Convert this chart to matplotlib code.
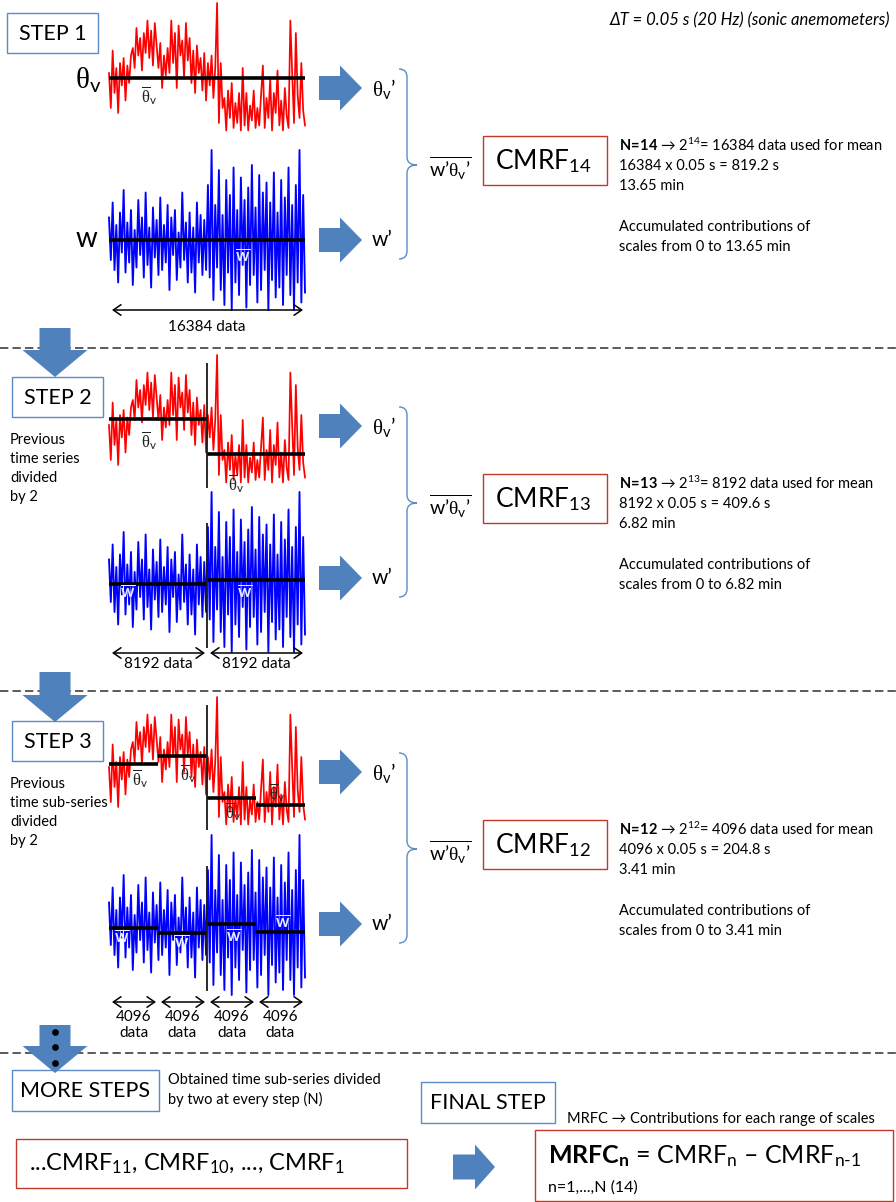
import numpy as np
import matplotlib
matplotlib.use('Agg')
import matplotlib.pyplot as plt
from matplotlib.patches import Rectangle, FancyArrow, PathPatch
from matplotlib.path import Path

plt.rcParams['font.family'] = ['Lato', 'DejaVu Sans']
plt.rcParams['mathtext.fontset'] = 'custom'
plt.rcParams['mathtext.rm'] = 'Lato'
plt.rcParams['mathtext.it'] = 'Lato:italic'
plt.rcParams['mathtext.bf'] = 'Lato:bold'
plt.rcParams['mathtext.tt'] = 'Liberation Serif'

# ---------------- data ----------------
# virtual potential temperature fluctuation (arbitrary units)
theta_v = [0.2, -1.2, 1.1, -0.6, 0.4, -1.4, 0.6,
           -0.3, 0.8, -0.9, 0.5, -0.2, 0.9,
           1.2, 0.4, 2.0, 0.9, 1.6, 0.3, 1.8,
           1.0, 2.3, 0.8, 1.9, 0.5, 2.2, 1.3, 0.4,
           1.4, -0.4, 0.9, 0.1, 1.2,
           0.2, 2.3, 0.6, 1.8, -0.4, 2.1, 0.9, 1.5, 0.0, 2.2, 0.7,
           1.6, -0.2, 1.1, -0.6, 1.3, 0.2, 0.8,
           -0.5, 1.0, -0.9, 0.6, -0.3, 0.9, -0.8, 0.4,
           3.0,
           -1.8, 0.6, -1.2,
           -0.8, -2.1, -0.5, -1.6, -0.2, -2.0, -1.0, -1.8, -0.6, -2.1,
           0.4,
           -1.9, -0.6, -2.1, -1.1, -1.7, -0.5, -2.0, -1.2, -1.9, -0.7,
           0.5,
           -2.0, -0.8, -1.6, 0.0, -2.1, -0.6, -1.4, 0.3, -1.9, -0.9, -2.1, -0.4, -1.5, -2.0,
           2.3,
           0.2, -1.8, 1.8, -0.7, -1.6, 0.6, -1.3, -1.9]

# vertical wind speed (arbitrary units)
w = [0.9, -0.8, 1.5, -1.2, 0.6, -1.7, 1.1, -0.5, 2.0, -1.3, 0.7, -0.9, 1.2, -1.8,
     0.4, -1.1, 1.6, -0.6, 0.9, -1.5, 1.9, -1.0, 0.5, -1.9, 1.3, -0.7, 0.8, -1.4,
     1.7, -1.2, 0.6, -0.9, 1.4, -2.0, 0.9, -0.6, 1.2, -1.6, 0.3, -1.1, 1.9, -0.8,
     0.7, -1.7, 1.1, -1.3, 0.5, -2.1, 1.5, -0.9, 1.0, -1.4, 0.8, -1.2,
     2.2, -1.5, 3.6, -2.4, 1.4, -1.1, 2.8, -2.0, 1.0, -2.6, 2.4, -1.3, 1.8, -2.8,
     2.9, -1.7, 1.2, -2.2, 2.5, -1.0, 1.6, -2.7, 2.1, -1.8, 3.0, -1.4, 1.3, -2.5,
     2.6, -2.0, 1.9, -1.2, 2.3, -2.8, 1.5, -1.6, 2.7, -2.3, 1.1, -1.9, 2.4, -2.6,
     1.7, -1.4, 2.9, -2.2, 1.4, -2.8, 2.2, -1.7, 3.6, -2.5, 1.8, -2.1]

theta_means = [[0.0], [0.44, -0.96], [0.32, 0.64, -1.04, -1.32]]
w_means = [[0.0], [-0.09, 0.08], [-0.12, -0.32, 0.04, -0.28]]

step_labels = ['STEP 1', 'STEP 2', 'STEP 3']
step_N = [14, 13, 12]
step_counts = [16384, 8192, 4096]
step_seconds = [819.2, 409.6, 204.8]
step_minutes = [13.65, 6.82, 3.41]
step_notes = ['', 'Previous\ntime series\ndivided\nby 2', 'Previous\ntime sub-series\ndivided\nby 2']

# ---------------- layout ----------------
W, H = 896, 1202
BLUE = '#4F81BD'
BOXBLUE = '#5B8CC8'
BOXRED = '#C0392B'
SIG_X0, SIG_X1 = 109, 305
PX_UNIT = 25.0
red_zero = [78, 430, 772]
blue_zero = [240, 582, 925]
col_off = [0, 338, 684]
step_box_y = [13, 377, 721]
step_box_x = [7, 12, 12]
data_arrow_y = [310, 653, 1002]
data_label_y = [327, 664, 1025]
theta_lbl_pos = [[(149, 96)], [(149, 441), (236, 484)],
                 [(140, 779), (188, 774), (233, 812), (277, 793)]]
w_lbl_pos = [[(243, 256)], [(128, 592), (245, 592)],
             [(122, 937), (182, 942), (234, 936), (283, 922)]]

fig = plt.figure(figsize=(W / 100, H / 100), dpi=100)
fig.patch.set_facecolor('white')

ax = fig.add_axes([0, 0, 1, 1], zorder=5)
ax.set_xlim(0, W)
ax.set_ylim(H, 0)
ax.axis('off')


def signal_axes(zero_px, ylo, yhi):
    top = zero_px - yhi * PX_UNIT
    bot = zero_px - ylo * PX_UNIT
    a = fig.add_axes([SIG_X0 / W, 1 - bot / H, (SIG_X1 - SIG_X0) / W, (bot - top) / H], zorder=1)
    a.set_xlim(0, 1)
    a.set_ylim(ylo, yhi)
    a.axis('off')
    return a


def brace(x, yt, ym, yb, r=8, nub=10):
    verts = [(x - r, yt), (x, yt), (x, yt + r), (x, ym - r), (x, ym), (x + nub, ym),
             (x, ym), (x, ym + r), (x, yb - r), (x, yb), (x - r, yb)]
    codes = [Path.MOVETO, Path.CURVE3, Path.CURVE3, Path.LINETO, Path.CURVE3, Path.CURVE3,
             Path.CURVE3, Path.CURVE3, Path.LINETO, Path.CURVE3, Path.CURVE3]
    ax.add_patch(PathPatch(Path(verts, codes), fc='none', ec=BOXBLUE, lw=1.0))


def box(x0, y0, x1, y1, ec, lw=1.0):
    ax.add_patch(Rectangle((x0, y0), x1 - x0, y1 - y0, fc='white', ec=ec, lw=lw, zorder=2))


THETA = r'\mathtt{\theta}_{\mathrm{v}}'

for s in range(3):
    n = 2 ** s
    t = np.linspace(0, 1, len(theta_v))
    # red (theta_v)
    ra = signal_axes(red_zero[s], -2.4, 3.2)
    ra.plot(t, theta_v, color='#FF0000', lw=1.25, clip_on=False)
    for k, m in enumerate(theta_means[s]):
        ra.hlines(m, k / n, (k + 1) / n, color='black', lw=2.6, zorder=3)
    # blue (w)
    t2 = np.linspace(0, 1, len(w))
    ba = signal_axes(blue_zero[s], -3.0, 3.8)
    ba.plot(t2, w, color='#0000FF', lw=1.35, clip_on=False)
    for k, m in enumerate(w_means[s]):
        ba.hlines(m, k / n, (k + 1) / n, color='black', lw=2.6, zorder=3)
    if s > 0:
        ra.vlines(0.5, -2.3, 2.7, color='#1a1a1a', lw=1.3, zorder=4)
        ba.vlines(0.5, -2.65, 2.35, color='#1a1a1a', lw=1.3, zorder=4)

    # mean labels
    for (x, y) in theta_lbl_pos[s]:
        ax.text(x, y, r'$\overline{\mathtt{\theta}}_{\mathrm{v}}$', ha='center', va='center',
                fontsize=12, color='#222222')
    for (x, y) in w_lbl_pos[s]:
        ax.text(x, y, r'$\overline{\mathbf{w}}$', ha='center', va='center',
                fontsize=12, color='#E6ECFF')

    # step box
    bx = step_box_x[s]
    by = step_box_y[s]
    box(bx, by, bx + 91, by + 40, BOXBLUE)
    ax.text(bx + 46, by + 21, step_labels[s], ha='center', va='center', fontsize=15.5)
    if step_notes[s]:
        ax.text(10, by + 56, step_notes[s], ha='left', va='top', fontsize=10.5, linespacing=1.45)

    # data arrows
    for k in range(n):
        b0 = SIG_X0 + (SIG_X1 - SIG_X0) * k / n
        b1 = SIG_X0 + (SIG_X1 - SIG_X0) * (k + 1) / n
        ax.annotate('', xy=(b1 - 2, data_arrow_y[s]), xytext=(b0 + 3, data_arrow_y[s]),
                    arrowprops=dict(arrowstyle='<->,head_length=0.55,head_width=0.38',
                                    lw=1.1, color='black', shrinkA=0, shrinkB=0))
        if s == 2:
            ax.text((b0 + b1) / 2, data_label_y[s], f'{step_counts[s]}\ndata', ha='center',
                    va='center', fontsize=11, linespacing=1.25)
        else:
            ax.text((b0 + b1) / 2, data_label_y[s], f'{step_counts[s]} data', ha='center',
                    va='center', fontsize=11)

    # right side
    o = col_off[s]
    ax.add_patch(FancyArrow(319, 88 + o, 43, 0, width=24, head_width=45, head_length=22,
                            length_includes_head=True, fc=BLUE, ec='none'))
    ax.add_patch(FancyArrow(319, 240 + o, 43, 0, width=24, head_width=45, head_length=22,
                            length_includes_head=True, fc=BLUE, ec='none'))
    ax.text(372, 90 + o, r'$' + THETA + r'$’', va='center', ha='left', fontsize=15)
    ax.text(372, 240 + o, 'w’', va='center', ha='left', fontsize=15)
    brace(407, 69 + o, 165 + o, 259 + o)
    ax.text(429, 168 + o, r'$\overline{\mathrm{w’}' + THETA + r'\mathrm{’}}$', va='center',
            ha='left', fontsize=14)
    box(483, 136 + o, 607, 185 + o, BOXRED)
    ax.text(495, 161 + o, r'CMRF$_{' + str(step_N[s]) + '}$', va='center', ha='left', fontsize=19)
    lines = [r'$\mathbf{N\!=\!' + str(step_N[s]) + r'}$ → 2$^{' + str(step_N[s]) + r'}$= '
             + f'{step_counts[s]} data used for mean',
             f'{step_counts[s]} x 0.05 s = {step_seconds[s]} s',
             f'{step_minutes[s]} min']
    for i, txt in enumerate(lines):
        ax.text(619, 145 + o + 20.5 * i, txt, va='center', ha='left', fontsize=10.5)
    ax.text(619, 227 + o, 'Accumulated contributions of', va='center', ha='left', fontsize=10.5)
    ax.text(619, 247 + o, f'scales from 0 to {step_minutes[s]} min', va='center', ha='left',
            fontsize=10.5)

# left labels in step 1
ax.text(101, 80, r'$' + THETA + r'$', ha='right', va='center', fontsize=21)
ax.text(97, 247, 'w', ha='right', va='baseline', fontsize=20)

# title
ax.text(890, 20, 'ΔT = 0.05 s (20 Hz) (sonic anemometers)', ha='right', va='center',
        fontsize=12, style='italic')

# separators
for y in [348, 691, 1053]:
    ax.plot([0, W], [y, y], color='#404040', lw=1.2, ls=(0, (5, 2.5)), zorder=1)

# down arrows
for (y0, y1) in [(328, 377), (672, 722), (1025, 1073)]:
    ax.add_patch(FancyArrow(55, y0, 0, y1 - y0, width=31, head_width=65, head_length=27,
                            length_includes_head=True, fc=BLUE, ec='none', zorder=3))
ax.plot([55, 55, 55], [1032, 1047, 1063], 'o', color='black', ms=3.8, zorder=4)

# bottom section
box(12, 1070, 159, 1111, BOXBLUE)
ax.text(85, 1091, 'MORE STEPS', ha='center', va='center', fontsize=15.5)
ax.text(168, 1090, 'Obtained time sub-series divided\nby two at every step (N)', ha='left',
        va='center', fontsize=10.5, linespacing=1.35)
box(421, 1082, 555, 1123, BOXBLUE)
ax.text(488, 1103, 'FINAL STEP', ha='center', va='center', fontsize=15.5)
ax.text(567, 1119, 'MRFC → Contributions for each range of scales', ha='left', va='center',
        fontsize=10.5)
box(535, 1130, 893, 1201, BOXRED)
ax.text(548, 1156, r'$\mathbf{MRFC_n}$ = CMRF$_\mathrm{n}$ – CMRF$_{\text{n-1}}$',
        ha='left', va='center', fontsize=18)
ax.text(548, 1188, 'n=1,...,N (14)', ha='left', va='center', fontsize=11.5)
box(16, 1139, 407, 1188, BOXRED)
ax.text(29, 1164, r'...CMRF$_{11}$, CMRF$_{10}$, ..., CMRF$_{1}$', ha='left', va='center',
        fontsize=17)
ax.add_patch(FancyArrow(453, 1167, 42, 0, width=25, head_width=45, head_length=20,
                        length_includes_head=True, fc=BLUE, ec='none'))

fig.savefig('out.png', dpi=100, facecolor='white')
